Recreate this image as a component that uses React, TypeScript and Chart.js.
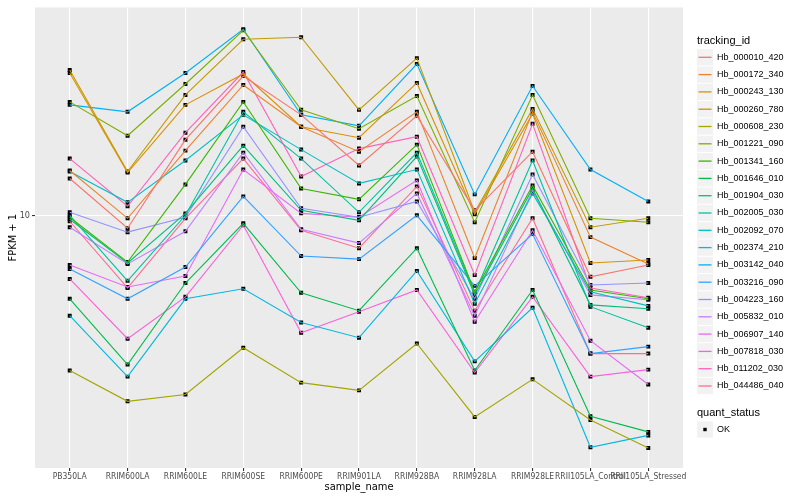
import React, { useEffect, useRef } from "react";
import { Chart, registerables } from "chart.js";

Chart.register(...registerables);

const sampleNames = [
  "PB350LA", "RRIM600LA", "RRIM600LE", "RRIM600SE", "RRIM600PE", "RRIM901LA",
  "RRIM928BA", "RRIM928LA", "RRIM928LE", "RRII105LA_Control", "RRII105LA_Stressed",
];

const trackingIds = [
  "Hb_000010_420", "Hb_000172_340", "Hb_000243_130", "Hb_000260_780", "Hb_000608_230",
  "Hb_001221_090", "Hb_001341_160", "Hb_001646_010", "Hb_001904_030", "Hb_002005_030",
  "Hb_002092_070", "Hb_002374_210", "Hb_003142_040", "Hb_003216_090", "Hb_004223_160",
  "Hb_005832_010", "Hb_006907_140", "Hb_007818_030", "Hb_011202_030", "Hb_044486_040",
];

const seriesColors = [
  "#F8766D", "#EA8331", "#D89000", "#C09B00", "#A3A500", "#7CAE00", "#39B600", "#00BB4E",
  "#00BF7D", "#00C1A3", "#00BFC4", "#00BAE0", "#00B0F6", "#35A2FF", "#9590FF", "#C77CFF",
  "#E76BF3", "#FA62DB", "#FF62BC", "#FF6C91",
];

// FPKM + 1 per sample (order of sampleNames)
const hb000010_420 = [13.28, 9.05, 17.92, 29.29, 21.71, 14.68, 21.54, 10.39, 16.34, 6.22, 6.81];
const hb000172_340 = [14.13, 9.77, 16.47, 27.33, 19.8, 16.34, 22.22, 7.19, 22.22, 8.45, 6.87];
const hb000243_130 = [29.97, 13.91, 23.44, 29.74, 19.8, 18.2, 27.76, 10.08, 21.88, 6.92, 7.08];
const hb000260_780 = [30.66, 14.02, 25.31, 38.9, 39.51, 22.56, 33.62, 10.23, 22.73, 9.12, 9.77];
const hb000608_230 = [3.02, 2.38, 2.51, 3.6, 2.75, 2.59, 3.72, 2.11, 2.82, 2.06, 1.66];
const hb001221_090 = [23.99, 18.48, 27.54, 41.69, 22.56, 19.5, 25.12, 9.48, 25.31, 9.77, 9.48];
const hb001341_160 = [9.85, 6.97, 12.69, 23.99, 12.3, 11.31, 17.25, 5.54, 12.59, 5.62, 5.25];
const hb001646_010 = [5.25, 3.16, 5.93, 9.4, 5.5, 4.79, 7.76, 3.02, 5.62, 2.12, 1.88];
const hb001904_030 = [9.7, 6.92, 10.15, 17.11, 10.39, 9.62, 15.73, 5.41, 12.3, 5.01, 4.86];
const hb002005_030 = [10.0, 6.03, 10.0, 22.22, 15.49, 10.23, 16.22, 5.5, 15.26, 4.94, 4.2];
const hb002092_070 = [14.02, 11.05, 15.26, 21.71, 16.6, 12.79, 14.23, 5.05, 11.84, 5.54, 4.97];
const hb002374_210 = [4.61, 2.88, 5.25, 5.67, 4.37, 3.89, 6.51, 3.24, 4.9, 1.67, 1.83];
const hb003142_040 = [23.44, 22.22, 29.97, 42.01, 21.71, 19.95, 32.11, 11.75, 27.13, 14.23, 11.13];
const hb003216_090 = [6.61, 5.25, 6.71, 11.57, 7.3, 7.13, 10.0, 5.8, 8.65, 3.44, 3.63];
const hb004223_160 = [10.23, 8.78, 9.85, 19.8, 10.55, 9.85, 11.13, 5.25, 13.7, 5.84, 5.93];
const hb005832_010 = [9.12, 6.87, 8.84, 16.22, 8.98, 8.07, 11.84, 4.61, 12.12, 5.41, 5.21];
const hb006907_140 = [6.81, 5.75, 6.26, 14.23, 10.15, 9.85, 13.09, 4.4, 8.91, 3.8, 2.71];
const hb007818_030 = [6.12, 3.86, 5.33, 9.26, 4.04, 4.75, 5.62, 2.97, 5.33, 2.88, 3.04];
const hb011202_030 = [15.49, 10.72, 18.91, 30.2, 13.49, 16.73, 18.34, 6.31, 20.26, 5.71, 5.29];
const hb044486_040 = [9.55, 5.71, 9.77, 15.49, 8.91, 7.76, 12.5, 4.79, 9.77, 3.44, 3.44];

const seriesValues = [
  hb000010_420, hb000172_340, hb000243_130, hb000260_780, hb000608_230,
  hb001221_090, hb001341_160, hb001646_010, hb001904_030, hb002005_030,
  hb002092_070, hb002374_210, hb003142_040, hb003216_090, hb004223_160,
  hb005832_010, hb006907_140, hb007818_030, hb011202_030, hb044486_040,
];

const yTickValues = [10];
const quantStatus = ["OK"];

const AXIS_FONT = "'Liberation Sans Narrow', 'DejaVu Sans Condensed', 'Liberation Sans', Arial, sans-serif";
const LEGEND_FONT = "'Liberation Sans', Arial, sans-serif";

const panelBackground = {
  id: "panelBackground",
  beforeDraw(chart: any) {
    const { ctx, chartArea } = chart;
    ctx.save();
    ctx.fillStyle = "#EBEBEB";
    ctx.fillRect(chartArea.left, chartArea.top, chartArea.right - chartArea.left, chartArea.bottom - chartArea.top);
    ctx.restore();
  },
};

const ggLegend = {
  id: "ggLegend",
  afterDraw(chart: any) {
    const ctx = chart.ctx;
    const x0 = 697;
    const rowH = 17.3;
    const y0 = 57.3;
    ctx.save();
    ctx.textAlign = "left";
    ctx.textBaseline = "middle";
    ctx.fillStyle = "#000000";
    ctx.font = `11px ${LEGEND_FONT}`;
    ctx.fillText("tracking_id", x0, 40.5);
    trackingIds.forEach((name, i) => {
      const cy = y0 + i * rowH;
      ctx.fillStyle = "#F2F2F2";
      ctx.fillRect(x0, cy - rowH / 2 + 0.5, 16, rowH - 1);
      ctx.strokeStyle = seriesColors[i];
      ctx.lineWidth = 1.3;
      ctx.beginPath();
      ctx.moveTo(x0 + 1.5, cy);
      ctx.lineTo(x0 + 14.5, cy);
      ctx.stroke();
      ctx.fillStyle = "#000000";
      ctx.font = `9px ${LEGEND_FONT}`;
      ctx.fillText(name, x0 + 20, cy);
    });
    ctx.font = `11px ${LEGEND_FONT}`;
    ctx.fillStyle = "#000000";
    ctx.fillText("quant_status", x0, 412.5);
    quantStatus.forEach((name, i) => {
      const cy = 429.5 + i * rowH;
      ctx.fillStyle = "#F2F2F2";
      ctx.fillRect(x0, cy - rowH / 2 + 0.5, 16, rowH - 1);
      ctx.fillStyle = "#000000";
      ctx.fillRect(x0 + 6.3, cy - 1.7, 3.4, 3.4);
      ctx.font = `9px ${LEGEND_FONT}`;
      ctx.fillText(name, x0 + 20, cy);
    });
    ctx.restore();
  },
};

export default function App() {
  const canvasRef = useRef<HTMLCanvasElement | null>(null);

  useEffect(() => {
    const canvas = canvasRef.current;
    if (!canvas) return;

    const lineSets = seriesValues.map((vals, i) => ({
      label: trackingIds[i],
      data: vals.map((v, j) => ({ x: j, y: v })),
      borderColor: seriesColors[i],
      backgroundColor: seriesColors[i],
      borderWidth: 1.1,
      pointRadius: 0,
      tension: 0,
      fill: false,
    }));
    const pointSets = seriesValues.map((vals, i) => ({
      label: trackingIds[i] + " " + quantStatus[0],
      data: vals.map((v, j) => ({ x: j, y: v })),
      showLine: false,
      pointStyle: "rect",
      pointRadius: 2.8,
      pointBackgroundColor: "#000000",
      pointBorderColor: "#000000",
      pointBorderWidth: 0,
      borderColor: "#000000",
      backgroundColor: "#000000",
    }));

    const chart = new Chart(canvas, {
      type: "line",
      data: { datasets: [...lineSets, ...pointSets] as any },
      options: {
        animation: false,
        responsive: false,
        maintainAspectRatio: false,
        events: [],
        layout: { padding: { left: 0, top: 5, right: 117, bottom: 0 } },
        plugins: { legend: { display: false }, tooltip: { enabled: false } },
        scales: {
          x: {
            type: "linear",
            min: -0.6,
            max: sampleNames.length - 0.4,
            afterBuildTicks: (s: any) => {
              s.ticks = sampleNames.map((_, i) => ({ value: i }));
            },
            afterFit: (s: any) => {
              s.height = 32;
            },
            ticks: {
              autoSkip: false,
              maxRotation: 0,
              minRotation: 0,
              padding: 1,
              color: "#4D4D4D",
              font: { family: AXIS_FONT, size: 8.5 },
              callback: (v: any) => sampleNames[Math.round(Number(v))] ?? "",
            },
            grid: { color: "#FFFFFF", lineWidth: 1.1, tickColor: "#333333", tickLength: 3 },
            border: { display: false },
            title: {
              display: true,
              text: "sample_name",
              color: "#000000",
              font: { family: AXIS_FONT, size: 11 },
              padding: { top: 0, bottom: 6 },
            },
          },
          y: {
            type: "logarithmic",
            min: 1.423,
            max: 49.73,
            afterBuildTicks: (s: any) => {
              s.ticks = yTickValues.map((v) => ({ value: v }));
            },
            afterFit: (s: any) => {
              s.width = 35;
            },
            ticks: {
              padding: 2,
              color: "#4D4D4D",
              font: { family: AXIS_FONT, size: 9 },
              callback: (v: any) => String(v),
            },
            grid: { color: "#FFFFFF", lineWidth: 1.1, tickColor: "#333333", tickLength: 3 },
            border: { display: false },
            title: {
              display: true,
              text: "FPKM + 1",
              color: "#000000",
              font: { family: AXIS_FONT, size: 11 },
              padding: { top: 7, bottom: 0 },
            },
          },
        },
      } as any,
      plugins: [panelBackground, ggLegend],
    });

    return () => chart.destroy();
  }, []);

  return (
    <canvas
      ref={canvasRef}
      width={800}
      height={500}
      style={{ position: "absolute", left: 0, top: 0, width: 800, height: 500 }}
    />
  );
}
